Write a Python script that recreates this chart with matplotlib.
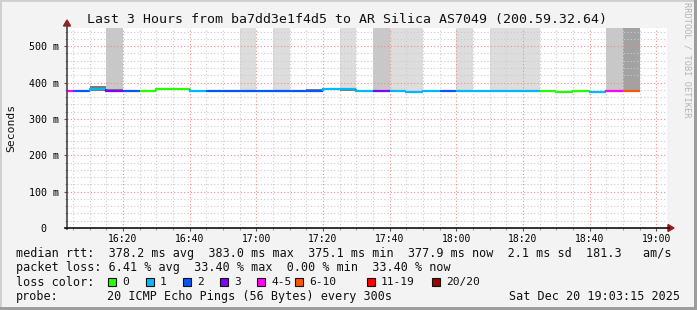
import matplotlib
matplotlib.use("Agg")
import matplotlib.pyplot as plt
from matplotlib.patches import Rectangle, Polygon
from matplotlib.lines import Line2D
from matplotlib.ticker import MultipleLocator, FixedLocator

# ---------------- data ----------------
# bin start, minutes after 16:00 (5-minute bins)
bin_start = [0, 5, 10, 15, 20, 25, 30, 35, 40, 45, 50, 55, 60, 65, 70, 75, 80, 85,
             90, 95, 100, 105, 110, 115, 120, 125, 130, 135, 140, 145, 150, 155,
             160, 165, 170]
# median rtt in ms
median_ms = [378, 378, 383, 378, 378, 378, 383, 383, 378, 378, 378, 378, 378, 378,
             378, 378, 383, 383, 378, 378, 378, 375, 378, 378, 378, 378, 378, 378,
             376, 376, 375, 378, 375, 378, 378]
# loss class index into loss colours
loss_class = [4, 2, 1, 3, 2, 0, 0, 0, 1, 2, 2, 2, 2, 2, 2, 2, 1, 1,
              1, 3, 1, 1, 1, 2, 1, 1, 1, 1, 1, 0, 0, 0, 1, 4, 5]
# smoke (ping spread) low / high in ms
smoke_lo = [378, 378, 378, 378, 378, 378, 383, 383, 378, 378, 378, 378, 378, 378,
            378, 378, 383, 378, 378, 378, 378, 375, 378, 378, 378, 378, 378, 378,
            376, 376, 375, 378, 375, 378, 378]
smoke_hi = [378, 378, 391, 383, 378, 378, 383, 383, 378, 378, 378, 378, 378, 378,
            378, 381, 383, 383, 378, 378, 378, 375, 378, 378, 378, 378, 378, 378,
            376, 378, 375, 378, 375, 378, 378]
# loss background shade level (0 none, 1 light, 2 medium, 3 dark)
loss_bg = [0, 0, 0, 2, 0, 0, 0, 0, 0, 0, 0, 1, 0, 1, 0, 0, 0, 1,
           0, 2, 1, 1, 0, 0, 1, 0, 1, 1, 1, 0, 0, 0, 0, 2, 3]

loss_labels = ["0", "1", "2", "3", "4-5", "6-10", "11-19", "20/20"]
loss_colors = ["#26ff00", "#00b8ff", "#0059ff", "#7e00ff", "#ff00fe",
               "#ff5500", "#ff0000", "#a10000"]
bg_colors = [None, "#dddddd", "#c8c8c8", "#a2a2a2"]

x_ticks = [20, 40, 60, 80, 100, 120, 140, 160, 180]
x_tick_labels = ["16:20", "16:40", "17:00", "17:20", "17:40", "18:00", "18:20",
                 "18:40", "19:00"]
y_ticks = [0, 100, 200, 300, 400, 500]
y_tick_labels = ["0  ", "100 m", "200 m", "300 m", "400 m", "500 m"]

title = "Last 3 Hours from ba7dd3e1f4d5 to AR Silica AS7049 (200.59.32.64)"
stat_lines = [
    "median rtt:  378.2 ms avg  383.0 ms max  375.1 ms min  377.9 ms now  2.1 ms sd  181.3   am/s",
    "packet loss: 6.41 % avg  33.40 % max  0.00 % min  33.40 % now",
]
probe_text = "20 ICMP Echo Pings (56 Bytes) every 300s"
date_text = "Sat Dec 20 19:03:15 2025"

BIN = 5
XMIN, XMAX = 3.25, 183.25
YMIN, YMAX = 0, 550

# ---------------- figure ----------------
W, H = 697, 310
fig = plt.figure(figsize=(W / 100, H / 100), dpi=100, facecolor="#f3f3f3")
MONO = "DejaVu Sans Mono"
FS = 8.5

def fx(px):
    return px / W

def fy(py):
    return 1 - py / H

# frame borders
fig.add_artist(Rectangle((0, 0), 1, 1, transform=fig.transFigure, facecolor="none",
                         edgecolor="#cfcfcf", linewidth=2))
fig.add_artist(Rectangle((fx(694), 0), fx(3), 1, transform=fig.transFigure,
                         facecolor="#9d9d9d", edgecolor="none"))
fig.add_artist(Rectangle((0, 0), 1, 3 / H, transform=fig.transFigure,
                         facecolor="#9d9d9d", edgecolor="none"))

L, R, T, B = 67, 667, 28, 228
ax = fig.add_axes([fx(L), fy(B), fx(R - L), (B - T) / H])
ax.set_facecolor("white")
ax.set_xlim(XMIN, XMAX)
ax.set_ylim(YMIN, YMAX)
for s in ax.spines.values():
    s.set_visible(False)

# loss background columns
for s0, m, lv in zip(bin_start, median_ms, loss_bg):
    if lv:
        ax.bar(s0, YMAX - m, bottom=m, width=BIN, align="edge",
               color=bg_colors[lv], linewidth=0, zorder=1)

# grid
ax.xaxis.set_major_locator(FixedLocator(x_ticks))
ax.xaxis.set_minor_locator(MultipleLocator(5))
ax.yaxis.set_major_locator(FixedLocator(y_ticks))
ax.yaxis.set_minor_locator(MultipleLocator(20))
ax.grid(which="minor", color="#cccccc", linestyle=(0, (1, 2)), linewidth=0.8, zorder=2)
ax.grid(which="major", color="#f08c8c", linestyle=(0, (1, 2)), linewidth=0.8, zorder=2)
ax.set_axisbelow(False)
for gl in ax.get_xgridlines() + ax.get_ygridlines():
    gl.set_zorder(2)

# smoke
for s0, lo, hi in zip(bin_start, smoke_lo, smoke_hi):
    if hi > lo:
        ax.bar(s0, hi - lo, bottom=lo, width=BIN, align="edge",
               color="#7a7a7a", linewidth=0, zorder=3)

# median line coloured by loss
prev = None
for s0, m, c in zip(bin_start, median_ms, loss_class):
    xs = [s0, s0 + BIN]
    ys = [m, m]
    if prev is not None and prev != m:
        xs = [s0] + xs
        ys = [prev] + ys
    ax.plot(xs, ys, color=loss_colors[c], linewidth=1.6, solid_capstyle="butt",
            solid_joinstyle="miter", zorder=4)
    prev = m

# ticks
ax.set_xticks(x_ticks)
ax.set_xticklabels(x_tick_labels, fontfamily=MONO, fontsize=7)
ax.set_yticks(y_ticks)
ax.set_yticklabels(y_tick_labels, fontfamily=MONO, fontsize=7.2)
ax.tick_params(which="major", length=2.5, width=0.8, color="#555555", pad=3)
ax.tick_params(which="minor", length=1.2, width=0.6, color="#888888")
ax.tick_params(axis="x", pad=1.5)

# axis lines with arrows
fig.add_artist(Line2D([fx(L), fx(L)], [fy(B + 1), fy(24)], color="#444444", linewidth=1.2))
fig.add_artist(Line2D([fx(L - 2), fx(669)], [fy(B), fy(B)], color="#111111", linewidth=1.2))
fig.add_artist(Polygon([[fx(L - 3.5), fy(26)], [fx(L + 3.5), fy(26)], [fx(L), fy(20)]],
                       closed=True, transform=fig.transFigure, color="#9b1c1c"))
fig.add_artist(Polygon([[fx(668), fy(B - 3.5)], [fx(668), fy(B + 3.5)], [fx(674), fy(B)]],
                       closed=True, transform=fig.transFigure, color="#9b1c1c"))

# title and labels
fig.text(fx(347), fy(19), title, ha="center", va="center", fontfamily=MONO, fontsize=9.5,
         color="#111111")
fig.text(fx(11), fy(128), "Seconds", ha="center", va="center", rotation=90,
         fontfamily=MONO, fontsize=8.2, color="#111111")
fig.text(fx(687), fy(60), "RRDTOOL / TOBI OETIKER", ha="center", va="center",
         rotation=270, fontfamily=MONO, fontsize=6.2, color="#b4b4b4")

# stats
fig.text(fx(16), fy(254), stat_lines[0], ha="left", va="center", fontfamily=MONO,
         fontsize=FS, color="#111111")
fig.text(fx(16), fy(268), stat_lines[1], ha="left", va="center", fontfamily=MONO,
         fontsize=FS, color="#111111")
fig.text(fx(16), fy(282), "loss color:", ha="left", va="center", fontfamily=MONO,
         fontsize=FS, color="#111111")
box_x = [108, 146, 183, 220, 257, 295, 367, 432]
for bx, lab, col in zip(box_x, loss_labels, loss_colors):
    fig.add_artist(Rectangle((fx(bx), fy(286)), fx(8), 8 / H, transform=fig.transFigure,
                             facecolor=col, edgecolor="#111111", linewidth=0.8))
    fig.text(fx(bx + 14), fy(282), lab, ha="left", va="center", fontfamily=MONO,
             fontsize=8.1, color="#111111")
fig.text(fx(16), fy(296.5), "probe:", ha="left", va="center", fontfamily=MONO,
         fontsize=FS, color="#111111")
fig.text(fx(107), fy(296.5), probe_text, ha="left", va="center", fontfamily=MONO,
         fontsize=FS, color="#111111")
fig.text(fx(680), fy(296.5), date_text, ha="right", va="center", fontfamily=MONO,
         fontsize=FS, color="#111111")

fig.savefig("out.png", dpi=100, facecolor=fig.get_facecolor())
